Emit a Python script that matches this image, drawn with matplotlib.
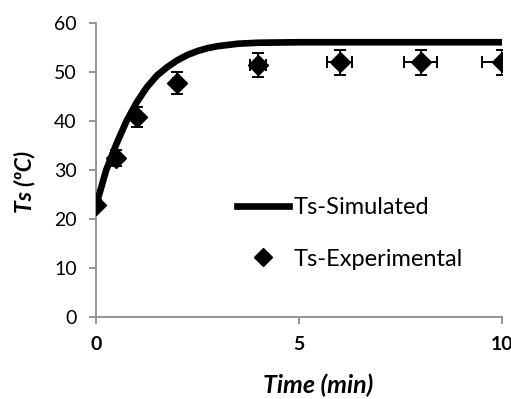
import matplotlib
matplotlib.use("Agg")
import matplotlib.pyplot as plt
from matplotlib.lines import Line2D

# Simulated surface temperature
sim_time = [0, 0.25, 0.5, 0.75, 1, 1.25, 1.5, 1.75, 2, 2.25, 2.5, 2.75, 3, 3.5, 4, 5, 6, 7, 8, 9, 10]
sim_ts = [22.8, 30.0, 35.3, 40.0, 43.8, 46.9, 49.3, 51.0, 52.4, 53.5, 54.3, 54.9, 55.3, 55.8, 56.0, 56.1, 56.1, 56.1, 56.1, 56.1, 56.1]

# Measured surface temperature with uncertainties
exp_time = [0, 0.5, 1, 2, 4, 6, 8, 10]
exp_ts = [22.8, 32.5, 40.8, 47.8, 51.5, 52.0, 52.0, 52.0]
exp_ts_err = [1.0, 1.6, 2.0, 2.3, 2.5, 2.5, 2.5, 2.5]
exp_time_err = [0, 0.025, 0.05, 0.1, 0.2, 0.3, 0.4, 0.5]

x_ticks = [0, 5, 10]
y_ticks = [0, 10, 20, 30, 40, 50, 60]

plt.rcParams['font.family'] = ['Lato', 'DejaVu Sans']

fig = plt.figure(figsize=(5.11, 3.99), dpi=100)
ax = fig.add_axes([0.188, 0.2055, 0.794, 0.7365])

ax.plot(sim_time, sim_ts, color='black', lw=4.8, solid_capstyle='round', zorder=3)
ax.errorbar(exp_time, exp_ts, yerr=exp_ts_err, xerr=exp_time_err, fmt='D',
            color='black', ms=10, elinewidth=1.4, capsize=4, capthick=1.4, zorder=4)

ax.set_xlim(0, 10)
ax.set_ylim(0, 60)
ax.set_xticks(x_ticks)
ax.set_yticks(y_ticks)
ax.set_xticklabels([str(v) for v in x_ticks], fontweight='bold', fontsize=14)
ax.set_yticklabels([str(v) for v in y_ticks], fontsize=14)

for side in ('top', 'right'):
    ax.spines[side].set_visible(False)
for side in ('left', 'bottom'):
    ax.spines[side].set_color('#8c8c8c')
    ax.spines[side].set_linewidth(1.3)
ax.tick_params(axis='both', colors='#8c8c8c', labelcolor='black', width=1.3, length=5, direction='out')
ax.tick_params(axis='y', pad=9)
ax.tick_params(axis='x', pad=9)
for lbl in ax.get_xticklabels():
    lbl.set_clip_on(False)

fig.text(0.622, 0.035, 'Time (min)', fontsize=18, fontweight='bold', fontstyle='italic',
         ha='center', va='center')
fig.text(0.049, 0.544, 'Ts (ºC)', fontsize=16.5, fontweight='bold', fontstyle='italic',
         ha='center', va='center', rotation=90)

handles = [Line2D([], [], color='black', lw=4.8),
           Line2D([], [], color='black', marker='D', ms=9, ls='none')]
fig.legend(handles, ['Ts-Simulated', 'Ts-Experimental'], loc='upper left',
           bbox_to_anchor=(0.44, 0.536), bbox_transform=fig.transFigure,
           frameon=False, fontsize=17, borderpad=0,
           handlelength=2.2, handletextpad=0.2, labelspacing=1.3)

fig.savefig('out.png', dpi=100)
